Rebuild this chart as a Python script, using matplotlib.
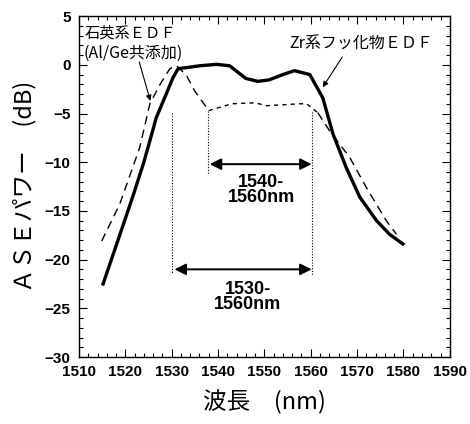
import numpy as np
import matplotlib
matplotlib.use("Agg")
import matplotlib.pyplot as plt
from matplotlib.ticker import MultipleLocator

plt.rcParams['font.family'] = ['Liberation Sans', 'Noto Sans CJK JP', 'DejaVu Sans']

# Zr-fluoride EDF (solid)
zr_wl = [1515.2, 1518, 1521.7, 1524, 1526.7, 1529, 1530.3, 1531.4, 1533, 1536,
         1539.7, 1542.5, 1546, 1548.6, 1551, 1554, 1556.5, 1559.8, 1562.6, 1564.8,
         1567.7, 1570.6, 1574.2, 1577, 1579.9]
zr_db = [-22.5, -18.6, -13.4, -10.0, -5.4, -2.8, -1.3, -0.4, -0.3, -0.1,
         0.05, -0.1, -1.4, -1.7, -1.55, -1.0, -0.6, -1.0, -3.4, -7.1,
         -10.6, -13.6, -16.0, -17.4, -18.4]

# silica EDF (Al/Ge co-doped), dashed
si_wl = [1514.9, 1518.8, 1523.1, 1525.3, 1527.5, 1529.6, 1531.1, 1533.2, 1535, 1538]
si_db = [-18.1, -14.3, -8.5, -4.0, -2.0, -0.4, -0.1, -1.1, -2.7, -4.7]
si_mid_wl = [1538, 1543, 1548, 1550.5, 1557.6, 1559.1, 1561.5]
si_mid_db = [-4.7, -4.0, -3.9, -4.2, -4.0, -4.0, -4.9]
si_tail_wl = [1561.5, 1564.1, 1568.4, 1572, 1576.3, 1578.5]
si_tail_db = [-4.9, -6.8, -9.5, -12.6, -16.0, -17.4]

fig = plt.figure(figsize=(4.7, 4.24), dpi=100)
ax = fig.add_axes([0.168, 0.158, 0.789, 0.804])

ax.plot(zr_wl, zr_db, color='black', lw=2.4, solid_joinstyle='round')
ax.plot(si_wl, si_db, color='black', lw=1.0, dashes=(6, 4))
ax.plot(si_mid_wl, si_mid_db, color='black', lw=1.0, dashes=(3, 3))
ax.plot(si_tail_wl, si_tail_db, color='black', lw=1.0, dashes=(6, 4))

# dotted markers for the bands
ax.plot([1530, 1530], [-4.9, -21.4], color='black', lw=0.8, ls=(0, (1, 1.5)))
ax.plot([1560.3, 1560.3], [-4.8, -21.6], color='black', lw=0.8, ls=(0, (1, 1.5)))
ax.plot([1537.9, 1537.9], [-4.7, -11.3], color='black', lw=0.8, ls=(0, (1, 1.5)))

arrow = dict(arrowstyle='<|-|>', color='black', lw=1.4, mutation_scale=17, shrinkA=0, shrinkB=0)
ax.annotate('', xy=(1538.2, -10.2), xytext=(1560.2, -10.2), arrowprops=arrow)
ax.annotate('', xy=(1530.6, -21.0), xytext=(1560.2, -21.0), arrowprops=arrow)
ax.text(1549.3, -12.9, '1540-\n1560nm', ha='center', va='center', fontsize=13,
        fontweight='bold', linespacing=0.85)
ax.text(1546.4, -23.8, '1530-\n1560nm', ha='center', va='center', fontsize=13,
        fontweight='bold', linespacing=0.85)

cjk = ['Noto Sans CJK JP', 'DejaVu Sans']
ax.text(1511.3, 3.3, '石英系ＥＤＦ', ha='left', va='center', fontsize=11, family=cjk)
ax.text(1511.0, 1.2, '(Al/Ge共添加)', ha='left', va='center', fontsize=11.5, family=cjk)
ax.annotate('', xy=(1525.4, -3.7), xytext=(1523.0, 0.3),
            arrowprops=dict(arrowstyle='-|>', color='black', lw=0.8, mutation_scale=8,
                            shrinkA=0, shrinkB=0))
ax.text(1586.5, 2.1, 'Zr系フッ化物ＥＤＦ', ha='right', va='center', fontsize=11.5, family=cjk)
ax.annotate('', xy=(1562.6, -2.3), xytext=(1566.8, 0.8),
            arrowprops=dict(arrowstyle='-|>', color='black', lw=0.8, mutation_scale=8,
                            shrinkA=0, shrinkB=0))

ax.set_xlim(1510, 1590)
ax.set_ylim(-30, 5)
ax.xaxis.set_major_locator(MultipleLocator(10))
ax.xaxis.set_minor_locator(MultipleLocator(2))
ax.yaxis.set_major_locator(MultipleLocator(5))
ax.yaxis.set_minor_locator(MultipleLocator(1))
ax.tick_params(which='both', direction='in', top=True, right=True, width=0.8)
ax.tick_params(which='major', length=6, labelsize=11, pad=6)
ax.tick_params(which='minor', length=3)
for lab in ax.get_xticklabels() + ax.get_yticklabels():
    lab.set_fontweight('bold')
for s in ax.spines.values():
    s.set_linewidth(1.0)

ax.set_xlabel('波長　(nm)', fontsize=17, family=cjk, labelpad=8)
ax.set_ylabel('ＡＳＥパワー　(dB)', fontsize=17, family=cjk, labelpad=6)

fig.savefig('out.png', dpi=100)
